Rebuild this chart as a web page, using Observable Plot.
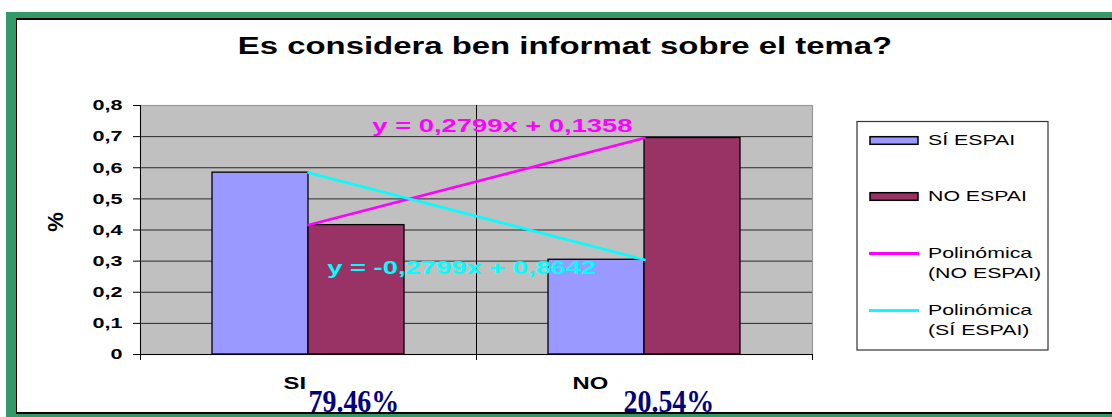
<!DOCTYPE html>
<html>
<head>
<meta charset="utf-8">
<script src="https://cdn.jsdelivr.net/npm/d3@7"></script>
<script src="https://cdn.jsdelivr.net/npm/@observablehq/plot@0.6"></script>
<style>
  html, body { margin: 0; padding: 0; background: #fff; }
  #wrap { position: relative; width: 1112px; height: 417px; overflow: hidden; font-family: "Liberation Sans", Arial, sans-serif; }
  .abs { position: absolute; }
  #chart { position: absolute; left: 0; top: 0; }
</style>
</head>
<body>
<div id="wrap">
  <div class="abs" style="left:6px;top:12px;width:1106px;height:405px;background:#339966"></div>
  <div class="abs" style="left:16px;top:18px;width:1096px;height:396px;background:#000"></div>
  <div class="abs" style="left:17px;top:20px;width:1095px;height:392px;background:#fff"></div>
  <div class="abs" style="left:1111px;top:20px;width:1px;height:392px;background:#d8d8d8"></div>
  <div id="chart"></div>
</div>
<script>
// ---- data ----
const title = "Es considera ben informat sobre el tema?";
const categories = ["SI", "NO"];
const seriesNames = ["SÍ ESPAI", "NO ESPAI"];
const siEspai = [0.5843, 0.3044];
const noEspai = [0.4157, 0.6956];
const trendNames = ["Polinómica (NO ESPAI)", "Polinómica (SÍ ESPAI)"];
const trendSlopes = [0.2799, -0.2799];      // NO ESPAI, SÍ ESPAI
const trendIntercepts = [0.1358, 0.8642];
const trendLabels = ["y = 0,2799x + 0,1358", "y = -0,2799x + 0,8642"];
const percentLabels = ["79.46%", "20.54%"];
const yTicks = [0, 0.1, 0.2, 0.3, 0.4, 0.5, 0.6, 0.7, 0.8];
const yTickLabels = ["0", "0,1", "0,2", "0,3", "0,4", "0,5", "0,6", "0,7", "0,8"];
const yLabel = "%";

// ---- styles ----
const barColors = ["#9999FF", "#993366"];
const trendColors = ["#FF00FF", "#00FFFF"];
const gapWidth = 1.5; // Excel gap width 150%
const barW = 1 / (seriesNames.length + gapWidth);

// ---- derived tables ----
const barData = [];
categories.forEach((c, i) => {
  const center = i + 1;
  [siEspai, noEspai].forEach((vals, s) => {
    const x1 = center + (s - 1) * barW;
    barData.push({category: c, series: seriesNames[s], x1, x2: x1 + barW, value: vals[i]});
  });
});
const trendData = trendSlopes.map((m, k) =>
  categories.map((c, i) => ({trend: trendNames[k], x: i + 1, y: m * (i + 1) + trendIntercepts[k]}))
);

const font = "'Liberation Sans', Arial, sans-serif";

const plot = Plot.plot({
  width: 1112,
  height: 417,
  marginLeft: 140,
  marginRight: 300,
  marginTop: 105,
  marginBottom: 63,
  style: {background: "transparent", fontFamily: font, overflow: "visible"},
  x: {domain: [0.5, categories.length + 0.5], axis: null},
  y: {domain: [0, 0.8], axis: null},
  color: {domain: seriesNames, range: barColors},
  marks: [
    Plot.frame({fill: "#C0C0C0"}),
    Plot.ruleY(yTicks.filter(t => t > 0 && t < 0.8), {stroke: "#2a2a2a", strokeWidth: 1}),
    Plot.frame({stroke: "#9a9a9a", strokeWidth: 1.2}),
    Plot.ruleX(d3.range(1.5, categories.length, 1), {stroke: "#000", strokeWidth: 1}),
    Plot.rect(barData, {x1: "x1", x2: "x2", y1: () => 0, y2: "value", fill: "series", stroke: "#000", strokeWidth: 1.3}),
    Plot.ruleX([0.5], {stroke: "#000", strokeWidth: 1}),
    Plot.ruleY([0], {stroke: "#000", strokeWidth: 1}),
    Plot.axisY(yTicks, {
      tickSize: 7, tickPadding: 11, stroke: "#000",
      tickFormat: (d) => yTickLabels[yTicks.indexOf(d)],
      fontSize: 15, fontWeight: "bold", fill: "#000", label: null
    }),
    Plot.axisX(d3.range(0.5, categories.length + 1, 1), {
      tickSize: 6, tickFormat: () => "", label: null, stroke: "#000"
    }),
    Plot.line(trendData[0], {x: "x", y: "y", stroke: trendColors[0], strokeWidth: 2.6}),
    Plot.line(trendData[1], {x: "x", y: "y", stroke: trendColors[1], strokeWidth: 2.6}),
    Plot.text([trendLabels[0]], {
      x: 2, y: trendData[0][1].y, text: d => d, textAnchor: "end", lineAnchor: "bottom",
      dx: -12, dy: -5.5, fill: trendColors[0], fontSize: 18, fontWeight: "bold"
    }),
    Plot.text([trendLabels[1]], {
      x: 2, y: trendData[1][1].y, text: d => d, textAnchor: "end", lineAnchor: "bottom",
      dx: -48, dy: 14.7, fill: trendColors[1], fontSize: 18, fontWeight: "bold"
    }),
    ...categories.map((c, i) => Plot.text([c], {
      x: i + 1, frameAnchor: "bottom", text: d => d, textAnchor: "start", lineAnchor: "bottom",
      dx: [-25, -72][i], dy: 34, fontSize: 17, fontWeight: "bold", fill: "#000"
    })),
    ...percentLabels.map((p, i) => Plot.text([p], {
      x: i + 1, frameAnchor: "bottom", text: d => d, textAnchor: "start", lineAnchor: "bottom",
      dx: [0, -21][i], dy: 57, fontSize: 31, fontWeight: "bold", fill: "#000080",
      fontFamily: "'Liberation Serif', 'Times New Roman', serif"
    }))
  ]
});

document.getElementById("chart").appendChild(plot);
const svg = d3.select(plot);

function stretch(sel, f) {
  sel.each(function () {
    const L = this.getComputedTextLength();
    this.setAttribute("textLength", (L * f).toFixed(1));
    this.setAttribute("lengthAdjust", "spacingAndGlyphs");
  });
}

// horizontal stretch of chart texts (as in the reference image)
svg.selectAll("text").each(function () {
  const t = this.textContent;
  const s = d3.select(this);
  if (yTickLabels.includes(t)) stretch(s, 1.44);
  else if (trendLabels.includes(t)) stretch(s, 1.52);
  else if (categories.includes(t)) stretch(s, 1.4);
  else if (percentLabels.includes(t)) stretch(s, 0.9);
});

// title
svg.append("text")
  .attr("x", 565).attr("y", 54)
  .attr("text-anchor", "middle")
  .style("font", `bold 23px ${font}`)
  .attr("fill", "#000")
  .text(title)
  .call(stretch, 1.43);

// y label
svg.append("text")
  .attr("transform", "translate(63,222) rotate(-90)")
  .attr("text-anchor", "middle")
  .style("font", `bold 22px ${font}`)
  .attr("fill", "#000")
  .text(yLabel);

// legend
const lg = svg.append("g").attr("text-anchor", "start");
lg.append("rect").attr("x", 857).attr("y", 121.5).attr("width", 191).attr("height", 228.5)
  .attr("fill", "#fff").attr("stroke", "#333").attr("stroke-width", 1.2);
const legendItems = [
  {kind: "rect", color: barColors[0], lines: [seriesNames[0]], y: 140.5},
  {kind: "rect", color: barColors[1], lines: [seriesNames[1]], y: 196.5},
  {kind: "line", color: trendColors[0], lines: ["Polinómica", "(NO ESPAI)"], y: 253.5},
  {kind: "line", color: trendColors[1], lines: ["Polinómica", "(SÍ ESPAI)"], y: 310.5}
];
legendItems.forEach(it => {
  if (it.kind === "rect") {
    lg.append("rect").attr("x", 870).attr("y", it.y - 3.8).attr("width", 48).attr("height", 7.6)
      .attr("fill", it.color).attr("stroke", "#000").attr("stroke-width", 1.5);
  } else {
    lg.append("line").attr("x1", 869).attr("x2", 919).attr("y1", it.y).attr("y2", it.y)
      .attr("stroke", it.color).attr("stroke-width", 3);
  }
  it.lines.forEach((t, j) => {
    lg.append("text").attr("x", 928).attr("y", it.y + 4.5 + j * 19.5)
      .attr("text-anchor", "start")
      .style("font", `15px ${font}`).attr("fill", "#000").text(t)
      .call(stretch, 1.42);
  });
});
</script>
</body>
</html>
